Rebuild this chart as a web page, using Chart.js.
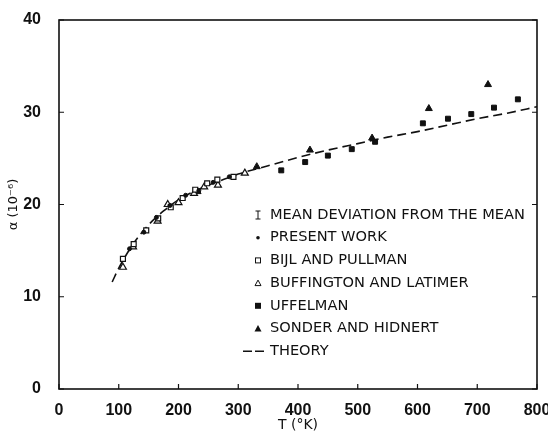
<!DOCTYPE html>
<html>
<head>
<meta charset="utf-8">
<script src="https://cdn.jsdelivr.net/npm/chart.js@4.4.0/dist/chart.umd.min.js"></script>
<style>
  html, body { margin: 0; padding: 0; background: #fff; }
  #wrap { width: 548px; height: 434px; }
</style>
</head>
<body>
<div id="wrap"><canvas id="grafico"></canvas></div>
<script>
// dados (T em K, alpha em 10^-6)
var xTicks = [0, 100, 200, 300, 400, 500, 600, 700, 800];
var yTicks = [0, 10, 20, 30, 40];

var presentT = [118, 142, 163, 186, 212, 234, 258, 285];
var presentA = [15.2, 17.0, 18.6, 19.9, 21.0, 21.5, 22.4, 23.0];

var bijlT = [107, 125, 146, 166, 187, 207, 228, 248, 265, 292];
var bijlA = [14.1, 15.7, 17.2, 18.5, 19.7, 20.7, 21.6, 22.3, 22.7, 23.0];

var buffT = [107, 124, 165, 182, 200, 226, 243, 266, 311];
var buffA = [13.2, 15.4, 18.2, 20.0, 20.2, 21.2, 21.9, 22.1, 23.4];

var uffT = [372, 412, 450, 490, 529, 609, 651, 690, 728, 768];
var uffA = [23.7, 24.6, 25.3, 26.0, 26.8, 28.8, 29.3, 29.8, 30.5, 31.4];

var sonderT = [232, 331, 420, 524, 619, 718];
var sonderA = [21.4, 24.1, 25.9, 27.2, 30.4, 33.0];

var theoryT = [89, 100, 125, 150, 175, 200, 225, 250, 275, 300, 350, 400, 450, 500, 550, 600, 650, 700, 750, 800];
var theoryA = [11.6, 13.1, 15.8, 17.8, 19.3, 20.5, 21.4, 22.1, 22.7, 23.3, 24.2, 25.1, 25.9, 26.6, 27.3, 27.9, 28.6, 29.3, 29.9, 30.6];

var legendLabels = ['MEAN DEVIATION FROM THE MEAN', 'PRESENT WORK', 'BIJL AND PULLMAN',
  'BUFFINGTON AND LATIMER', 'UFFELMAN', 'SONDER AND HIDNERT', 'THEORY'];

function pts(xs, ys) {
  return xs.map(function (x, i) { return { x: x, y: ys[i] }; });
}

// moldura, tracinhos para dentro e legenda
var moldura = {
  id: 'moldura',
  afterDraw: function (chart) {
    var c = chart.ctx, a = chart.chartArea;
    var sx = chart.scales.x, sy = chart.scales.y;
    c.save();
    c.strokeStyle = '#111';
    c.lineWidth = 1.6;
    c.strokeRect(a.left, a.top, a.right - a.left, a.bottom - a.top);
    c.lineWidth = 1.2;
    c.beginPath();
    xTicks.forEach(function (v) {
      var px = sx.getPixelForValue(v);
      c.moveTo(px, a.bottom); c.lineTo(px, a.bottom - 5);
    });
    yTicks.forEach(function (v) {
      var py = sy.getPixelForValue(v);
      c.moveTo(a.left, py); c.lineTo(a.left + 5, py);
      c.moveTo(a.right, py); c.lineTo(a.right - 5, py);
    });
    c.stroke();

    c.fillStyle = '#111';
    c.font = '14.6px "DejaVu Sans"';
    c.textBaseline = 'middle';
    var x0 = 258, tx = 270, y0 = 215, dy = 22.7;
    legendLabels.forEach(function (txt, i) {
      var y = y0 + i * dy;
      c.fillText(txt, tx, y);
      c.lineWidth = 1;
      c.beginPath();
      if (i === 0) {
        c.moveTo(x0 - 2.5, y - 4); c.lineTo(x0 + 2.5, y - 4);
        c.moveTo(x0, y - 4); c.lineTo(x0, y + 4);
        c.moveTo(x0 - 2.5, y + 4); c.lineTo(x0 + 2.5, y + 4);
        c.stroke();
      } else if (i === 1) {
        c.arc(x0, y, 1.8, 0, Math.PI * 2); c.fill();
      } else if (i === 2) {
        c.strokeRect(x0 - 2.5, y - 2.5, 5, 5);
      } else if (i === 3) {
        c.moveTo(x0, y - 3); c.lineTo(x0 + 3, y + 2.5); c.lineTo(x0 - 3, y + 2.5); c.closePath(); c.stroke();
      } else if (i === 4) {
        c.fillRect(x0 - 3, y - 3, 6, 6);
      } else if (i === 5) {
        c.moveTo(x0, y - 3.5); c.lineTo(x0 + 3.5, y + 3); c.lineTo(x0 - 3.5, y + 3); c.closePath(); c.fill();
      } else {
        c.lineWidth = 1.5;
        c.moveTo(243, y); c.lineTo(252, y);
        c.moveTo(255, y); c.lineTo(264, y);
        c.stroke();
      }
    });
    c.restore();
  }
};

var tickFont = { family: '"Liberation Sans Narrow", "Liberation Sans", sans-serif', size: 16, weight: 'bold' };

var ctx = document.getElementById('grafico').getContext('2d');
var meuGrafico = new Chart(ctx, {
  type: 'scatter',
  data: {
    datasets: [{
      label: 'PRESENT WORK',
      data: pts(presentT, presentA),
      pointStyle: 'circle', pointRadius: 2, backgroundColor: '#111', borderColor: '#111'
    }, {
      label: 'BIJL AND PULLMAN',
      data: pts(bijlT, bijlA),
      pointStyle: 'rect', pointRadius: 3.5, backgroundColor: '#fff', borderColor: '#111', borderWidth: 1.2
    }, {
      label: 'BUFFINGTON AND LATIMER',
      data: pts(buffT, buffA),
      pointStyle: 'triangle', pointRadius: 4, backgroundColor: '#fff', borderColor: '#111', borderWidth: 1.2
    }, {
      label: 'UFFELMAN',
      data: pts(uffT, uffA),
      pointStyle: 'rect', pointRadius: 3.5, backgroundColor: '#111', borderColor: '#111'
    }, {
      label: 'SONDER AND HIDNERT',
      data: pts(sonderT, sonderA),
      pointStyle: 'triangle', pointRadius: 4, backgroundColor: '#111', borderColor: '#111'
    }, {
      label: 'THEORY',
      data: pts(theoryT, theoryA),
      showLine: true, pointRadius: 0, borderColor: '#111', borderWidth: 1.6,
      borderDash: [9, 5], cubicInterpolationMode: 'monotone', fill: false
    }]
  },
  options: {
    responsive: true,
    maintainAspectRatio: false,
    animation: false,
    layout: { padding: { top: 20, right: 11, left: 0, bottom: 0 } },
    plugins: { legend: { display: false }, tooltip: { enabled: false } },
    scales: {
      x: {
        type: 'linear', min: 0, max: 800,
        afterFit: function (s) { s.height = 45; s.paddingLeft = 0; s.paddingRight = 0; },
        afterBuildTicks: function (s) { s.ticks = xTicks.map(function (v) { return { value: v }; }); },
        grid: { display: false },
        border: { display: false },
        ticks: { color: '#111', font: tickFont, padding: 4, maxRotation: 0 },
        title: { display: true, text: 'T (\u00B0K)', color: '#111', font: { family: '"DejaVu Sans"', size: 14 }, padding: { top: 0, bottom: 0 } }
      },
      y: {
        type: 'linear', min: 0, max: 40,
        afterFit: function (s) { s.width = 59; s.paddingTop = 0; s.paddingBottom = 0; },
        afterBuildTicks: function (s) { s.ticks = yTicks.map(function (v) { return { value: v }; }); },
        grid: { display: false },
        border: { display: false },
        ticks: { color: '#111', font: tickFont, padding: 10 },
        title: { display: true, text: '\u03B1 (10\u207B\u2076)', color: '#111', font: { family: '"DejaVu Sans"', size: 13 }, padding: { top: 6, bottom: 0 } }
      }
    }
  },
  plugins: [moldura]
});
</script>
</body>
</html>
